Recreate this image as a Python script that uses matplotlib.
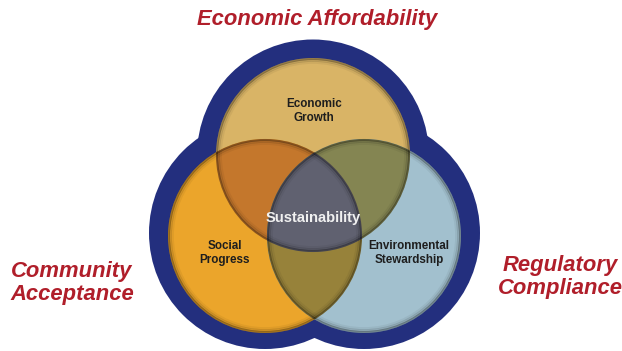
import matplotlib
matplotlib.use("Agg")
import matplotlib.pyplot as plt
from matplotlib.patches import Circle
import numpy as np

# --- data ---
circle_labels = ["Economic\nGrowth", "Social\nProgress", "Environmental\nStewardship"]
center_label = "Sustainability"
outer_labels = ["Economic Affordability", "Community\nAcceptance", "Regulatory\nCompliance"]

# --- layout ---
fig = plt.figure(figsize=(6.22, 3.51), dpi=100)
ax = fig.add_axes([0, 0, 1, 1])
ax.set_xlim(0, 622)
ax.set_ylim(351, 0)
ax.set_aspect("equal")
ax.axis("off")

r = 97
border = 19
centers = [(313, 155), (265, 236), (364, 236)]
border_centers = [(313, 155.5), (265, 233), (364, 233)]
base_cols = ["#d9b466", "#eba52b", "#a2c0ce"]
pair_cols = {(0, 1): "#c4772c", (0, 2): "#848552", (1, 2): "#97823a"}
triple_col = "#606170"
navy = "#232f7e"

# outer border
for c in border_centers:
    ax.add_patch(Circle(c, r + border, color=navy, zorder=1, lw=0))

for c, col in zip(centers, base_cols):
    ax.add_patch(Circle(c, r, facecolor=col, edgecolor="none", zorder=2))

for (i, j), col in pair_cols.items():
    p = Circle(centers[i], r, facecolor=col, edgecolor="none", zorder=3)
    ax.add_patch(p)
    p.set_clip_path(Circle(centers[j], r, transform=ax.transData))


def circ_path(c, rr, n=400):
    t = np.linspace(0, 2 * np.pi, n)
    return np.column_stack([c[0] + rr * np.cos(t), c[1] + rr * np.sin(t)])


def inside(p, c):
    return (p[:, 0] - c[0]) ** 2 + (p[:, 1] - c[1]) ** 2 <= r ** 2 + 1e-6


segs = []
for k in range(3):
    pk = circ_path(centers[k], r, 3000)
    others = [centers[m] for m in range(3) if m != k]
    mask = inside(pk, others[0]) & inside(pk, others[1])
    segs.append(pk[mask])
allp = np.vstack(segs)
cx, cy = allp.mean(axis=0)
ang = np.arctan2(allp[:, 1] - cy, allp[:, 0] - cx)
allp = allp[np.argsort(ang)]
ax.fill(allp[:, 0], allp[:, 1], color=triple_col, zorder=4, lw=0)

# bevel-like edges
for c in centers:
    ax.add_patch(Circle(c, r - 1, facecolor="none", edgecolor=(0, 0, 0, 0.30), lw=1.5, zorder=5))
    ax.add_patch(Circle(c, r - 2.5, facecolor="none", edgecolor=(0, 0, 0, 0.12), lw=2.0, zorder=5))
    ax.add_patch(Circle(c, r - 4.5, facecolor="none", edgecolor=(0, 0, 0, 0.05), lw=2.0, zorder=5))

fs = 8.4
kw = dict(ha="center", va="center", fontsize=fs, fontweight="bold",
          family="Liberation Sans", color="#1e1e1e", zorder=6, linespacing=1.15)
ax.text(314, 111, circle_labels[0], **kw)
ax.text(225, 253, circle_labels[1], **kw)
ax.text(409, 253, circle_labels[2], **kw)
ax.text(313, 218, center_label, ha="center", va="center", fontsize=10.6,
        fontweight="bold", family="Liberation Sans", color="#f0f0f0", zorder=6)

red = "#b01e2a"
tfs = 15.8
tkw = dict(ha="center", va="center", fontsize=tfs, fontweight="bold", style="italic",
           family="Liberation Sans", color=red, linespacing=1.12)
ax.text(317, 20, outer_labels[0], **tkw)
ax.text(72, 283, outer_labels[1], **tkw)
ax.text(560, 277, outer_labels[2], **tkw)

fig.savefig("out.png", dpi=100)
